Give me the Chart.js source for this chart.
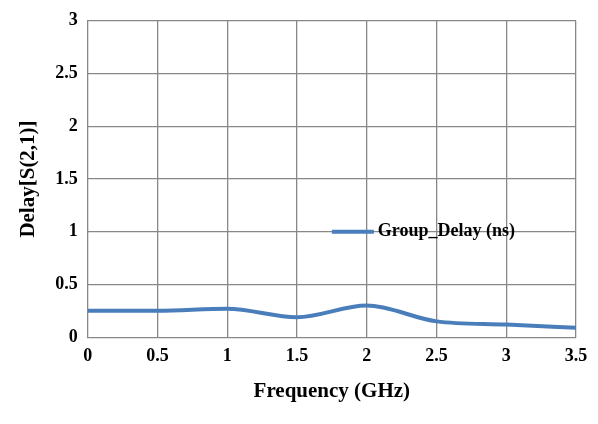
<!DOCTYPE html>
<html><head>
<script src="https://cdn.jsdelivr.net/npm/chart.js@4"></script>
<style>html,body{margin:0;padding:0;background:#fff}#w{width:598px;height:424px}</style>
</head><body><div id="w"><canvas id="c"></canvas></div>
<script>
const freqs=[0,0.5,1,1.5,2,2.5,3,3.5];
const delays=[0.25,0.25,0.27,0.19,0.30,0.15,0.12,0.09];
const seriesLabel='Group_Delay (ns)';
const xTitle='Frequency (GHz)';
const yTitle='Delay[S(2,1)]';
const font={family:'"Liberation Serif","Times New Roman",serif',weight:'bold',size:18};
const fmt=v=>String(Number(v));
const legendPlugin={id:'lg',afterDraw(ch){
 const c=ch.ctx,ds=ch.data.datasets[0];
 const y=ch.scales.y.getPixelForValue(1);
 const x0=ch.scales.x.getPixelForValue(1.75);
 c.save();c.strokeStyle=ds.borderColor;c.lineWidth=4;
 c.beginPath();c.moveTo(x0,y);c.lineTo(x0+42,y);c.stroke();
 c.fillStyle='#000';c.font='bold 18px "Liberation Serif",serif';c.textBaseline='middle';
 c.fillText(ds.label,x0+46,y);c.restore();}};
new Chart(document.getElementById('c'),{
 type:'line',
 data:{datasets:[{label:seriesLabel,data:freqs.map((f,i)=>({x:f,y:delays[i]})),borderColor:'#4a7ebb',borderWidth:4,pointRadius:0,tension:0.4,cubicInterpolationMode:'monotone',fill:false}]},
 options:{responsive:true,maintainAspectRatio:false,animation:false,
  layout:{padding:{top:-4,right:22,left:12,bottom:16}},
  plugins:{legend:{display:false},tooltip:{enabled:false}},
  scales:{
   x:{type:'linear',min:0,max:3.5,ticks:{stepSize:0.5,color:'#000',font,padding:8,callback:fmt},grid:{color:'#888',lineWidth:1.3,drawTicks:false},border:{color:'#888'},
      title:{display:true,text:xTitle,color:'#000',font:{...font,size:21}}},
   y:{min:0,max:3,ticks:{stepSize:0.5,color:'#000',font,padding:10,callback:fmt},grid:{color:'#888',lineWidth:1.3,drawTicks:false},border:{color:'#888'},
      title:{display:true,text:yTitle,color:'#000',font:{...font,size:21}}}
  }},
 plugins:[legendPlugin]
});
</script></body></html>
